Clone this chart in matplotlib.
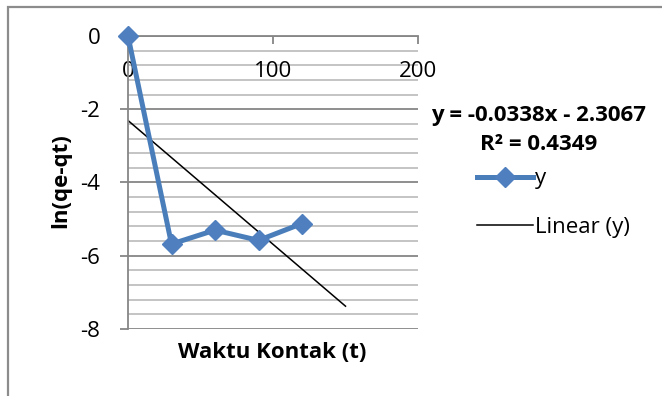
import matplotlib
matplotlib.use("Agg")
import matplotlib.pyplot as plt
import numpy as np
from matplotlib.patches import Rectangle

plt.rcParams['font.family'] = ['Open Sans', 'DejaVu Sans']

# data
t = [0, 30, 60, 90, 120]
y = [0.0, -5.68, -5.30, -5.58, -5.12]
slope = -0.0338
intercept = -2.3067
r2 = 0.4349
trend_x = [0, 150]
xticks = [0, 100, 200]
yticks = [0, -2, -4, -6, -8]

W, H = 662, 396
FS = 16
fig = plt.figure(figsize=(W / 100, H / 100), dpi=100)
ax = fig.add_axes([128 / W, 1 - 329 / H, 290 / W, 293 / H])

ax.set_xlim(0, 200)
ax.set_ylim(-8, 0)

# gridlines
for v in np.arange(-8, 0.01, 0.4):
    major = abs(v / 2 - round(v / 2)) < 1e-6
    ax.axhline(v, color='#868686' if major else '#bfbfbf', lw=1.3, zorder=0)

blue = '#4A7EBB'
line_y, = ax.plot(t, y, color=blue, lw=3.6, marker='D', markersize=10.5,
                  markerfacecolor='#4F7FBE', markeredgecolor='#4F7FBE',
                  label='y', zorder=3, clip_on=False)
tx = np.array(trend_x)
line_lin, = ax.plot(tx, slope * tx + intercept, color='black', lw=1.1,
                    label='Linear (y)', zorder=2)

for s in ['top', 'right']:
    ax.spines[s].set_visible(False)
ax.spines['bottom'].set_position(('data', 0))
ax.spines['bottom'].set_color('#868686')
ax.spines['left'].set_color('#868686')
ax.spines['bottom'].set_linewidth(1.3)
ax.spines['left'].set_linewidth(1.3)
ax.set_xticks(xticks)
ax.set_yticks(yticks)
ax.set_xticklabels([str(v) for v in xticks])
ax.set_yticklabels([str(v) for v in yticks])
ax.tick_params(axis='x', direction='out', length=6, width=1.3, color='#868686',
               labelsize=FS, pad=12)
ax.tick_params(axis='y', direction='out', length=6, width=1.3, color='#868686',
               labelsize=FS, pad=14)

fig.text(272 / W, 1 - 353 / H, 'Waktu Kontak (t)', ha='center', va='center',
         fontsize=FS, fontweight='bold')
fig.text(61 / W, 1 - 181 / H, 'ln(qe-qt)', ha='center', va='center',
         rotation=90, fontsize=FS, fontweight='bold')

fig.text(539 / W, 1 - 130 / H,
         f'y = {slope:.4f}x - {abs(intercept):.4f}\nR\u00b2 = {r2:.4f}',
         ha='center', va='center', fontsize=FS, fontweight='bold',
         linespacing=1.45)

leg = fig.legend(handles=[line_y, line_lin], loc='center left',
                 bbox_to_anchor=(477 / W, 1 - 203 / H), frameon=False,
                 fontsize=FS, handlelength=2.5, handletextpad=0.1,
                 labelspacing=1.22, borderpad=0, borderaxespad=0)

fig.add_artist(Rectangle((8 / W, -0.05), 1.2, 1 - 7 / H + 0.05,
                         transform=fig.transFigure, fill=False,
                         edgecolor='#8c8c8c', lw=1.6, clip_on=False))

fig.savefig('out.png', dpi=100)
